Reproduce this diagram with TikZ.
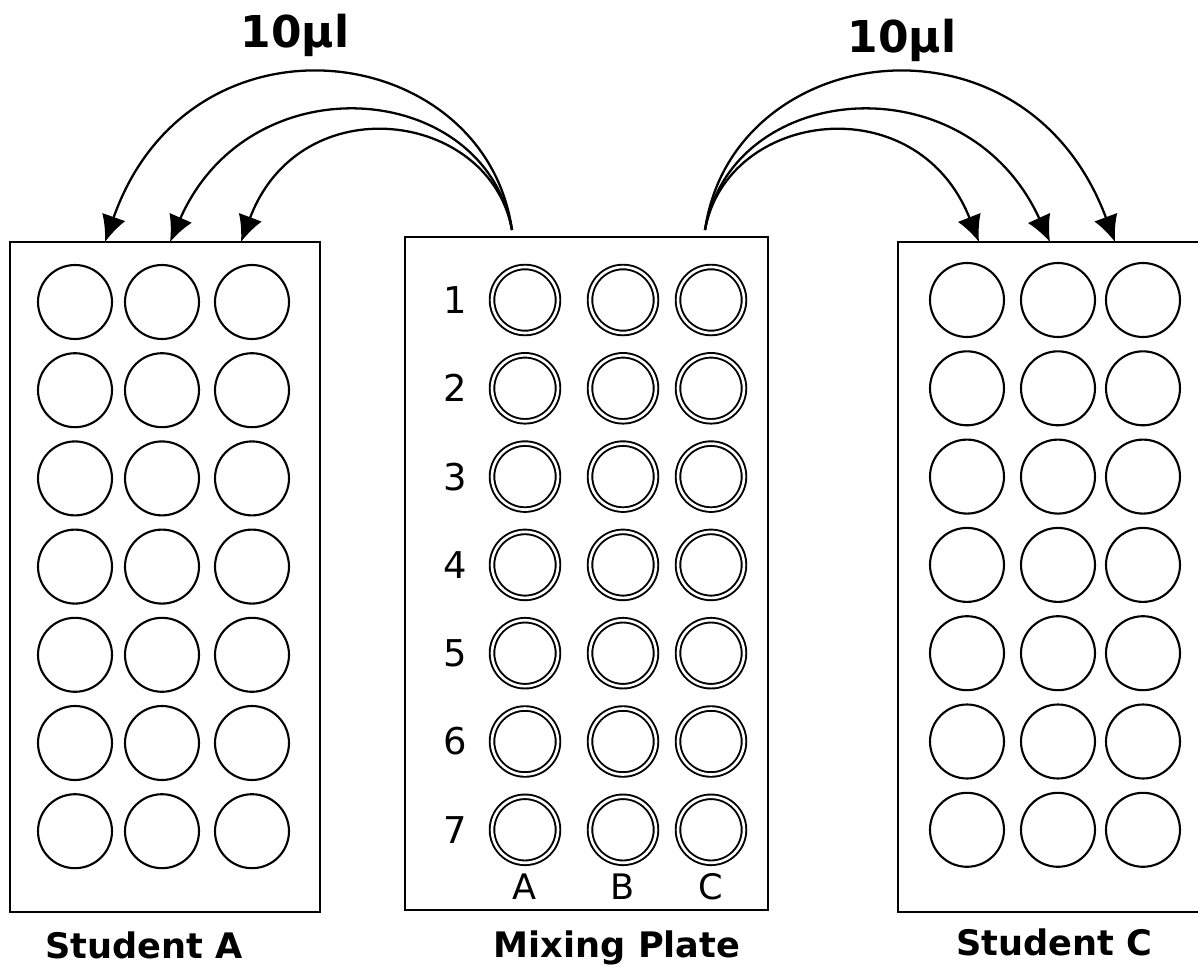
\documentclass[tikz,border=0pt]{standalone}
\usepackage{fontspec}
\setmainfont{DejaVu Sans}
\usetikzlibrary{arrows.meta,positioning}

\begin{document}
\begin{tikzpicture}[
x=0.02cm,y=-0.02cm,
plate/.style={
  draw,
  line width=1.4pt,
  inner sep=0pt
},
well/.style={
  draw,
  circle,
  line width=1.2pt,
  inner sep=0pt,
  minimum size=1.48cm
},
mixwell/.style={
  draw,
  circle,
  double,
  line width=1.1pt,
  double distance=1.5pt,
  inner sep=0pt,
  minimum size=1.32cm
},
flow/.style={
  line width=1.3pt,
  -{Latex[length=15pt,width=14pt]}
},
title/.style={
  font=\fontsize{20}{24}\selectfont\bfseries,
  anchor=base
},
vol/.style={
  font=\fontsize{25}{30}\selectfont\bfseries,
  anchor=base
},
rowlab/.style={
  font=\fontsize{21}{25}\selectfont
},
collab/.style={
  font=\fontsize{20}{24}\selectfont
}
]
\useasboundingbox (0,0) rectangle (1198,967);

% plates
\node[plate,minimum width=6.2cm,minimum height=13.4cm] (studA) at (165,577) {};
\node[plate,minimum width=7.26cm,minimum height=13.46cm] (mix) at (586.5,573.5) {};
\node[plate,minimum width=6.14cm,minimum height=13.4cm] (studC) at (1051.5,577) {};

% wells
\foreach \r in {1,...,7}{
  \foreach \c/\x in {1/75,2/162,3/252}
    \node[well] (a-\r-\c) at (\x,{302+88.2*(\r-1)}) {};
  \foreach \c/\x in {1/967,2/1058,3/1143}
    \node[well] (c-\r-\c) at (\x,{300+88.3*(\r-1)}) {};
  \node[rowlab] (num-\r) at (455,{300+88.3*(\r-1)}) {\r};
  \foreach \c/\x in {A/525,B/623,C/711}
    \node[mixwell] (m-\r-\c) at (\x,{300+88.3*(\r-1)}) {};
}
\foreach \c in {A,B,C}
  \path (m-7-\c) ++(0,57) node[collab] (col-\c) {\c};

% labels
\node[title] (lblA) at (144,958) {Student A};
\node[title] (lblM) at (617,957) {Mixing Plate};
\node[title] (lblC) at (1054,955) {Student C};
\node[vol] (volL) at (295,47) {10µl};
\node[vol] (volR) at (902,52) {10µl};

% transfers
\coordinate (srcL) at (512,230);
\coordinate (srcR) at (705,230);
\coordinate (tA1) at (105,242);
\coordinate (tA2) at (170,242);
\coordinate (tA3) at (241,242);
\coordinate (tC1) at (979,242);
\coordinate (tC2) at (1050,242);
\coordinate (tC3) at (1115,242);

\draw[flow] (srcL) .. controls (485,40) and (190,0) .. (tA1);
\draw[flow] (srcL) .. controls (485,80) and (250,60) .. (tA2);
\draw[flow] (srcL) .. controls (490,110) and (300,85) .. (tA3);

\draw[flow] (srcR) .. controls (727,110) and (917,85) .. (tC1);
\draw[flow] (srcR) .. controls (732,80) and (967,60) .. (tC2);
\draw[flow] (srcR) .. controls (732,40) and (1025,0) .. (tC3);
\end{tikzpicture}
\end{document}
